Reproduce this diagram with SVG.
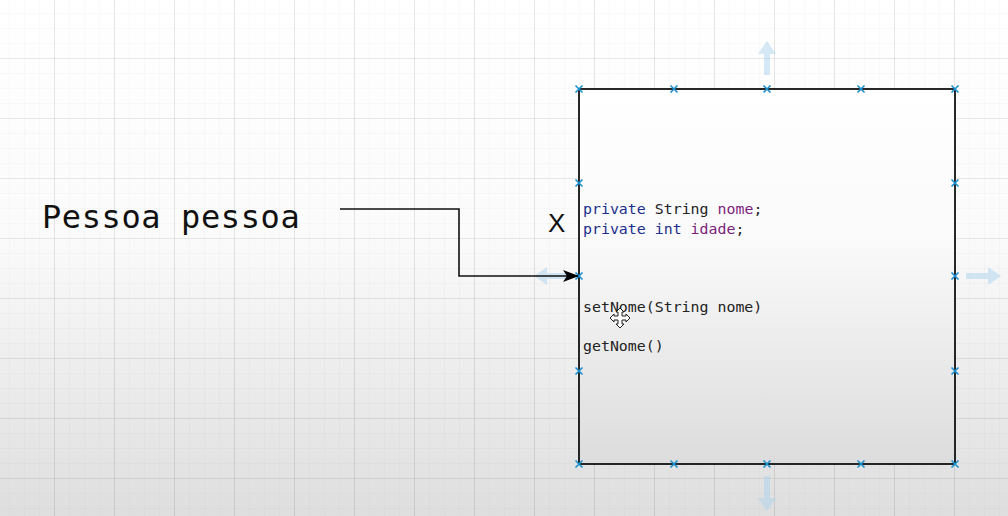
<svg xmlns="http://www.w3.org/2000/svg" width="1008" height="516" viewBox="0 0 1008 516">
<defs>
<linearGradient id="bg" x1="0" y1="0" x2="0" y2="1">
<stop offset="0" stop-color="#ffffff"/>
<stop offset="0.45" stop-color="#fbfbfb"/>
<stop offset="1" stop-color="#dedede"/>
</linearGradient>
<linearGradient id="boxg" x1="0" y1="0" x2="0" y2="1">
<stop offset="0" stop-color="#ffffff"/>
<stop offset="0.4" stop-color="#fafafa"/>
<stop offset="1" stop-color="#dcdcdc"/>
</linearGradient>
<pattern id="minor" x="54" y="58" width="15" height="15" patternUnits="userSpaceOnUse">
<path d="M0 0H15M0 0V15" fill="none" stroke="#000" stroke-opacity="0.04" stroke-width="1"/>
</pattern>
<pattern id="major" x="54" y="58" width="60" height="60" patternUnits="userSpaceOnUse">
<path d="M0 0H60M0 0V60" fill="none" stroke="#000" stroke-opacity="0.13" stroke-width="1.2"/>
</pattern>
<marker id="arr" viewBox="0 0 16 12" refX="15" refY="6" markerWidth="16" markerHeight="12" markerUnits="userSpaceOnUse" orient="auto">
<path d="M0 0L16 6L0 12L4 6Z" fill="#000"/>
</marker>
<g id="hx"><path d="M-3.5 -3.5L3.5 3.5M-3.5 3.5L3.5 -3.5" stroke="#1a8fd0" stroke-width="1.6"/></g>
</defs>
<style>
.code{font-family:"DejaVu Sans Mono","Liberation Mono",monospace;font-size:14.9px;fill:#222}
.kw{fill:#1c2f8c}
.id{fill:#7b1f7b}
.ghost{fill:#a9d4ec;opacity:0.5}
</style>
<rect width="1008" height="516" fill="url(#bg)"/>
<rect width="1008" height="516" fill="url(#minor)"/>
<rect width="1008" height="516" fill="url(#major)"/>

<g id="label-pessoa">
<text x="42" y="228" font-family="DejaVu Sans Mono, Liberation Mono, monospace" font-size="32" letter-spacing="0.6" fill="#111">Pessoa pessoa</text>
</g>
<g id="label-x">
<text x="548" y="232" font-family="Liberation Sans, Arial, sans-serif" font-size="26" fill="#111">X</text>
</g>

<g id="ghost-arrows">
<path class="ghost" d="M767 41L776 54H770V75H764V54H758Z"/>
<path class="ghost" d="M767 511L776 498H770V476H764V498H758Z"/>
<path class="ghost" d="M1001 276L988 267V273H966V279H988V285Z"/>
<path class="ghost" d="M534 276L547 267V273H570V279H547V285Z"/>
</g>

<g id="objeto">
<rect x="579" y="89" width="376" height="375" fill="url(#boxg)" stroke="#111" stroke-width="1.8"/>
<text class="code" x="583" y="214"><tspan class="kw">private</tspan> String <tspan class="id">nome</tspan>;</text>
<text class="code" x="583" y="234"><tspan class="kw">private</tspan> <tspan class="kw">int</tspan> <tspan class="id">idade</tspan>;</text>
<text class="code" x="583" y="312">setNome(String nome)</text>
<text class="code" x="583" y="351">getNome()</text>
<g id="handles">
<use href="#hx" x="579" y="89"/><use href="#hx" x="674" y="89"/><use href="#hx" x="767" y="89"/><use href="#hx" x="861" y="89"/><use href="#hx" x="955" y="89"/>
<use href="#hx" x="579" y="464"/><use href="#hx" x="674" y="464"/><use href="#hx" x="767" y="464"/><use href="#hx" x="861" y="464"/><use href="#hx" x="955" y="464"/>
<use href="#hx" x="579" y="183"/><use href="#hx" x="579" y="276"/><use href="#hx" x="579" y="371"/>
<use href="#hx" x="955" y="183"/><use href="#hx" x="955" y="276"/><use href="#hx" x="955" y="371"/>
</g>
</g>

<g id="connectors">
<path d="M340 209H459V276H578" fill="none" stroke="#111" stroke-width="1.6" marker-end="url(#arr)"/>
</g>

<g id="cursor">
<path d="M620 308L624 312H622V316H626V314L630 318L626 322V320H622V324H624L620 328L616 324H618V320H614V322L610 318L614 314V316H618V312H616Z" fill="#fff" stroke="#222" stroke-width="1"/>
</g>
</svg>
